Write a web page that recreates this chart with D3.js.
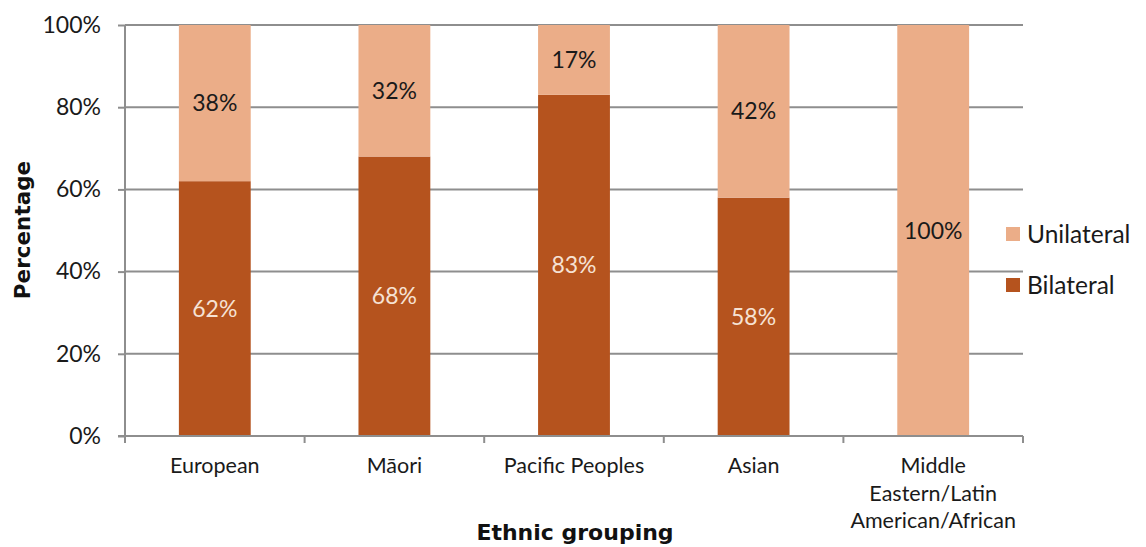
<!DOCTYPE html>
<html><head><meta charset="utf-8">
<script src="https://cdn.jsdelivr.net/npm/d3@7"></script>
<style>body{margin:0;background:#fff}svg{display:block}</style>
</head><body>
<svg id="c" width="1146" height="547"></svg>
<script>
const categories = ["European", "Māori", "Pacific Peoples", "Asian", "Middle Eastern/Latin American/African"];
const categoryLines = [["European"], ["Māori"], ["Pacific Peoples"], ["Asian"], ["Middle", "Eastern/Latin", "American/African"]];
const bilateral = [62, 68, 83, 58, 0];
const unilateral = [38, 32, 17, 42, 100];
const yTicks = [0, 20, 40, 60, 80, 100];
const seriesNames = ["Unilateral", "Bilateral"];

const colors = {Bilateral: "#B5531E", Unilateral: "#EBAD88"};
const svg = d3.select("#c");
const font = "Lato, 'Open Sans', sans-serif";
const m = {l: 125, r: 1023, t: 25, b: 436};

const x = d3.scaleBand().domain(categories).range([m.l, m.r]).paddingInner(0.6).paddingOuter(0.3);
const y = d3.scaleLinear().domain([0, 100]).range([m.b, m.t]);

// gridlines
svg.append("g").selectAll("line").data(yTicks.filter(d => d > 0)).join("line")
  .attr("x1", m.l).attr("x2", m.r).attr("y1", d => y(d)).attr("y2", d => y(d))
  .attr("stroke", "#8e8e8e").attr("stroke-width", 2);

const data = categories.map((c, i) => ({c, b: bilateral[i], u: unilateral[i]}));
const stack = d3.stack().keys(["b", "u"])(data);

const g = svg.append("g");
stack.forEach(layer => {
  const key = layer.key === "b" ? "Bilateral" : "Unilateral";
  g.selectAll(null).data(layer).join("rect")
    .attr("x", d => x(d.data.c))
    .attr("width", x.bandwidth())
    .attr("y", d => y(d[1]))
    .attr("height", d => y(d[0]) - y(d[1]))
    .attr("fill", colors[key]);
  g.selectAll(null).data(layer.filter(d => d[1] - d[0] > 0)).join("text")
    .attr("x", d => x(d.data.c) + x.bandwidth() / 2)
    .attr("y", d => (y(d[0]) + y(d[1])) / 2)
    .attr("dy", "0.35em")
    .attr("text-anchor", "middle")
    .attr("font-family", font).attr("font-size", 23)
    .attr("fill", key === "Bilateral" ? "#f6e2d4" : "#1a1a1a")
    .text(d => (d[1] - d[0]) + "%");
});

// y axis
const ya = svg.append("g").attr("transform", `translate(${m.l},0)`)
  .call(d3.axisLeft(y).tickValues(yTicks).tickSize(7).tickPadding(6).tickFormat(d => d + "%"));
ya.select(".domain").attr("stroke", "#8e8e8e").attr("stroke-width", 2).attr("d", `M0,${m.t}V${m.b}`);
ya.selectAll(".tick line").attr("stroke", "#8e8e8e").attr("stroke-width", 2);
ya.selectAll("text").attr("font-family", font).attr("font-size", 23).attr("fill", "#1a1a1a").attr("x", -24);

// x axis
const bounds = categories.map(c => x(c) - x.step() * x.paddingInner() / 2).concat([m.r]);
svg.append("line").attr("x1", m.l - 7).attr("x2", m.r).attr("y1", m.b).attr("y2", m.b)
  .attr("stroke", "#8e8e8e").attr("stroke-width", 2);
svg.append("g").selectAll("line").data(bounds).join("line")
  .attr("x1", d => d).attr("x2", d => d).attr("y1", m.b).attr("y2", m.b + 7)
  .attr("stroke", "#8e8e8e").attr("stroke-width", 2);
const xl = svg.append("g").selectAll("text").data(categories).join("text")
  .attr("x", d => x(d) + x.bandwidth() / 2)
  .attr("y", 473)
  .attr("text-anchor", "middle")
  .attr("font-family", font).attr("font-size", 21.5).attr("fill", "#1a1a1a");
xl.each(function(d, i) {
  d3.select(this).selectAll("tspan").data(categoryLines[i]).join("tspan")
    .attr("x", x(d) + x.bandwidth() / 2)
    .attr("dy", (t, j) => j === 0 ? 0 : 27.5)
    .text(t => t);
});

// axis titles
svg.append("text").attr("transform", "translate(30,230) rotate(-90)")
  .attr("text-anchor", "middle").attr("font-family", "'DejaVu Sans', sans-serif")
  .attr("font-weight", "bold").attr("font-size", 21.5).attr("fill", "#111").text("Percentage");
svg.append("text").attr("x", 575).attr("y", 540)
  .attr("text-anchor", "middle").attr("font-family", "'DejaVu Sans', sans-serif")
  .attr("font-weight", "bold").attr("font-size", 22).attr("fill", "#111").text("Ethnic grouping");

// legend
const lg = svg.append("g").selectAll("g").data(seriesNames).join("g")
  .attr("transform", (d, i) => `translate(1006,${234 + i * 51})`);
lg.append("rect").attr("x", 0).attr("y", -7).attr("width", 14).attr("height", 14).attr("fill", d => colors[d]);
lg.append("text").attr("x", 21).attr("dy", "0.35em").attr("font-family", font).attr("font-size", 24.5)
  .attr("fill", "#1a1a1a").text(d => d);
</script>
</body></html>
